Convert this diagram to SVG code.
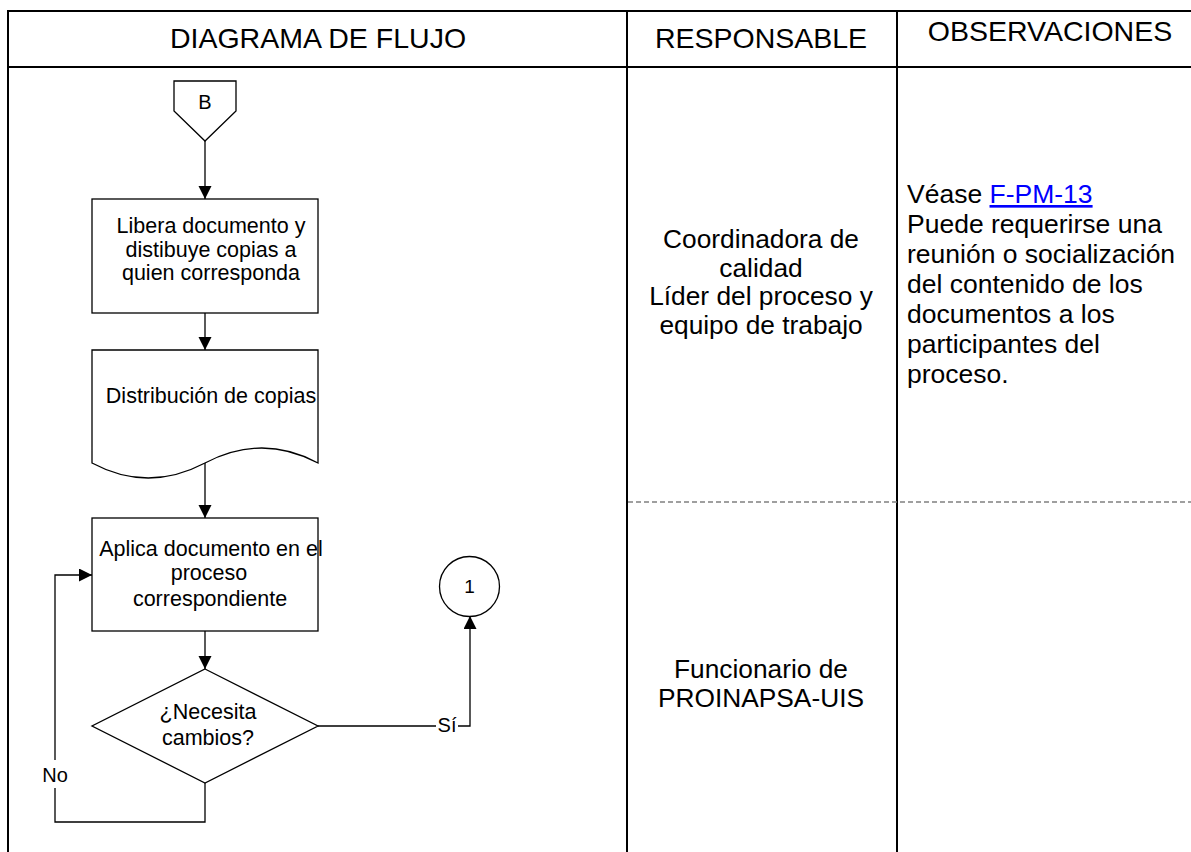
<svg xmlns="http://www.w3.org/2000/svg" width="1191" height="852" viewBox="0 0 1191 852">
<defs>
<style>
text{font-family:"Liberation Sans",Arial,sans-serif;fill:#000}
.h{font-size:28.5px;text-anchor:middle}
.f{font-size:21.5px;text-anchor:middle}
.r{font-size:26.3px;text-anchor:middle}
.o{font-size:26.5px}
.tbl{stroke:#000;stroke-width:2;fill:none}
.dash{stroke:#808080;stroke-width:1.3;stroke-dasharray:5 3;fill:none}
.shape{fill:#fff;stroke:#000;stroke-width:1.3}
.ln{stroke:#000;stroke-width:1.3;fill:none}
.arr{marker-end:url(#ah)}
.link{fill:#0000ff;text-decoration:underline}
</style>
<marker id="ah" markerUnits="userSpaceOnUse" markerWidth="14" markerHeight="14" refX="13" refY="6.5" orient="auto">
<path d="M0,0 L13,6.5 L0,13 Z" fill="#000"/>
</marker>
</defs>
<rect width="1191" height="852" fill="#fff"/>
<g id="table">
<path class="tbl" d="M8,11 H1191 M8,67 H1191 M8,10 V852 M627,11 V852 M897,11 V852"/>
<path class="dash" d="M628,502 H1191"/>
<text class="h" x="318" y="48">DIAGRAMA DE FLUJO</text>
<text class="h" x="761" y="48">RESPONSABLE</text>
<text class="h" x="1050" y="41">OBSERVACIONES</text>
</g>
<g id="connectors">
<path class="ln arr" d="M205,141 V199"/>
<path class="ln arr" d="M205,313 V350"/>
<path class="ln arr" d="M205,463 V518"/>
<path class="ln arr" d="M205,631 V669"/>
<path class="ln arr" d="M205,783 V822 H55 V575 H92"/>
<path class="ln arr" d="M318,726 H470 V616"/>
<rect x="40" y="760" width="30" height="28" fill="#fff"/>
<text x="55" y="782" font-size="20" text-anchor="middle">No</text>
<rect x="436" y="714" width="22" height="24" fill="#fff"/>
<text x="447" y="732" font-size="20" text-anchor="middle">Sí</text>
</g>
<g id="nodeB">
<path class="shape" d="M174,81 H236 V111 L205,141 L174,111 Z"/>
<text x="205" y="109" font-size="20" text-anchor="middle">B</text>
</g>
<g id="nodeLibera">
<rect class="shape" x="92" y="199" width="226" height="114"/>
<text class="f" x="211" y="233">Libera documento y</text>
<text class="f" x="211" y="256.5">distibuye copias a</text>
<text class="f" x="211" y="280">quien corresponda</text>
</g>
<g id="nodeDistribucion">
<path class="shape" d="M92,350 H318 V463 Q262,433 205,463 Q148,493 92,463 Z"/>
<text class="f" x="211" y="403">Distribución de copias</text>
</g>
<g id="nodeAplica">
<rect class="shape" x="92" y="518" width="226" height="113"/>
<text class="f" x="211" y="556">Aplica documento en el</text>
<text class="f" x="209" y="580">proceso</text>
<text class="f" x="210" y="606">correspondiente</text>
</g>
<g id="nodeDecision">
<path class="shape" d="M205,669 L318,726 L205,783 L92,726 Z"/>
<text class="f" x="208" y="719">¿Necesita</text>
<text class="f" x="208" y="745">cambios?</text>
</g>
<g id="node1">
<circle class="shape" cx="469.5" cy="586.5" r="30"/>
<text x="469.5" y="593" font-size="19" text-anchor="middle">1</text>
</g>
<g id="responsable">
<text class="r" x="761" y="248">Coordinadora de</text>
<text class="r" x="761" y="277">calidad</text>
<text class="r" x="761" y="305">Líder del proceso y</text>
<text class="r" x="761" y="334">equipo de trabajo</text>
<text class="r" x="761" y="678">Funcionario de</text>
<text class="r" x="761" y="707">PROINAPSA-UIS</text>
</g>
<g id="observaciones">
<text class="o" x="907" y="203">Véase <tspan class="link">F-PM-13</tspan></text>
<text class="o" x="907" y="233">Puede requerirse una</text>
<text class="o" x="907" y="263">reunión o socialización</text>
<text class="o" x="907" y="293">del contenido de los</text>
<text class="o" x="907" y="323">documentos a los</text>
<text class="o" x="907" y="353">participantes del</text>
<text class="o" x="907" y="383">proceso.</text>
</g>
</svg>
